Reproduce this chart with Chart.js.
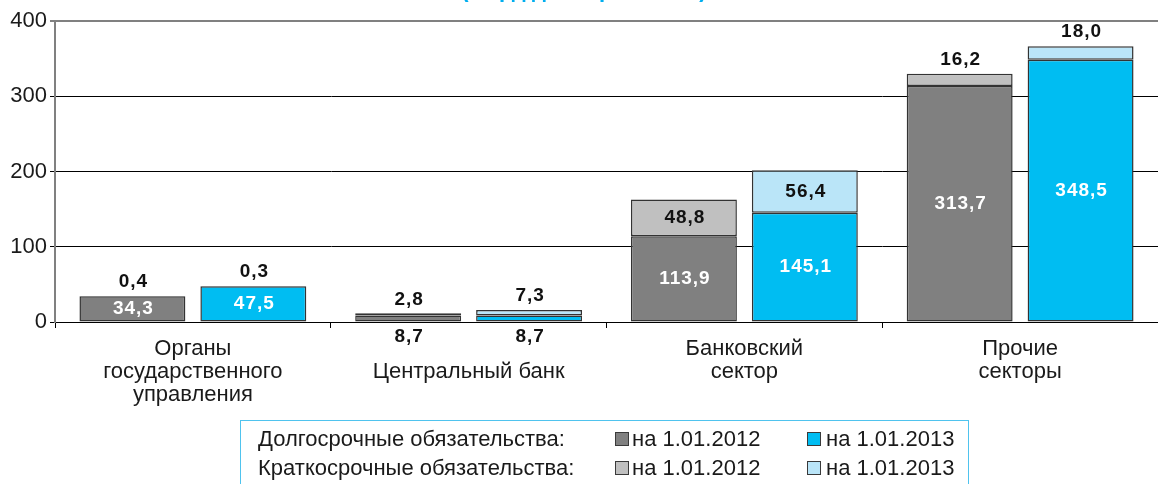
<!DOCTYPE html>
<html lang="ru">
<head>
<meta charset="utf-8">
<script src="https://cdn.jsdelivr.net/npm/chart.js@4/dist/chart.umd.min.js"></script>
<style>
  html, body { margin: 0; padding: 0; background: #fff; }
  #wrap { position: relative; width: 1158px; height: 484px; overflow: hidden; }
  #debt-chart { position: absolute; left: 0; top: 0; }
  .legend {
    position: absolute; left: 240px; top: 420px; width: 729px; height: 90px;
    border: 1px solid #4fc3ee; box-sizing: border-box;
    font-family: "Liberation Sans", Arial, sans-serif; font-size: 22px; color: #1a1a1a;
  }
  .legend span { position: absolute; white-space: nowrap; line-height: 22px; }
  .legend i { position: absolute; width: 12px; height: 12px; border: 1px solid #3a3a3a; }
</style>
</head>
<body>
<div id="wrap">
  <canvas id="debt-chart" width="1158" height="484"></canvas>
  <div class="legend" id="legend"></div>
</div>
<script>
const CATEGORIES = [
  ['Органы', 'государственного', 'управления'],
  ['', 'Центральный банк'],
  ['Банковский', 'сектор'],
  ['Прочие', 'секторы'],
];
const LONG_2012  = [34.3, 8.7, 113.9, 313.7];
const SHORT_2012 = [0.4, 2.8, 48.8, 16.2];
const LONG_2013  = [47.5, 8.7, 145.1, 348.5];
const SHORT_2013 = [0.3, 7.3, 56.4, 18.0];
const Y_TICKS    = [0, 100, 200, 300, 400];
const TITLE      = '(млрд долларов США)';
const LEGEND_ROWS = ['Долгосрочные обязательства:', 'Краткосрочные обязательства:'];
const LEGEND_DATES = ['на 1.01.2012', 'на 1.01.2013'];

const FONT = '"Liberation Sans", Arial, sans-serif';
const COLORS = {
  long12:  '#808080',
  long13:  '#00bdf2',
  short12: '#c0c0c0',
  short13: '#bae5f8',
  edge:    '#333',
  title:   '#00aeef',
};

const fmt = v => v.toFixed(1).replace('.', ',');

// value labels: inside the segment if it is tall enough, otherwise above / below
const valueLabels = {
  id: 'valueLabels',
  afterDatasetsDraw(chart) {
    const ctx = chart.ctx;
    ctx.save();
    ctx.font = 'bold 19px ' + FONT;
    ctx.letterSpacing = '1px';
    ctx.textAlign = 'center';
    ctx.textBaseline = 'middle';
    chart.data.datasets.forEach((ds, i) => {
      const meta = chart.getDatasetMeta(i);
      meta.data.forEach((bar, j) => {
        const v = ds.data[j];
        const h = Math.abs(bar.base - bar.y);
        const x = bar.x + 1;
        let y, color;
        if (ds.kind === 'long') {
          if (h > 20) { y = (bar.y + bar.base) / 2; color = '#fff'; }
          else { y = bar.base + 15; color = '#111'; }
        } else {
          if (h > 30) { y = (bar.y + bar.base) / 2; color = '#111'; }
          else { y = bar.y - 14; color = '#111'; }
        }
        ctx.fillStyle = color;
        ctx.fillText(fmt(v), x, y);
      });
    });
    ctx.restore();
  },
};

// title sits mostly above the top edge of the picture
const cutTitle = {
  id: 'cutTitle',
  afterDraw(chart) {
    const ctx = chart.ctx;
    ctx.save();
    ctx.font = 'bold 22px ' + FONT;
    ctx.fillStyle = COLORS.title;
    ctx.textAlign = 'center';
    ctx.textBaseline = 'alphabetic';
    ctx.fillText(TITLE, 584, -3);
    ctx.restore();
  },
};

function buildLegend() {
  const box = document.getElementById('legend');
  const swatches = [[COLORS.long12, COLORS.long13], [COLORS.short12, COLORS.short13]];
  let html = '';
  LEGEND_ROWS.forEach((row, r) => {
    const cy = 18 + r * 29;
    html += `<span style="left:17px;top:${cy - 11}px">${row}</span>`;
    LEGEND_DATES.forEach((d, k) => {
      const sx = k === 0 ? 374 : 566;
      html += `<i style="left:${sx}px;top:${cy - 7}px;background:${swatches[r][k]}"></i>`;
      html += `<span style="left:${sx + (k === 0 ? 17 : 19)}px;top:${cy - 11}px">${d}</span>`;
    });
  });
  box.innerHTML = html;
}

function initChart() {
  const canvas = document.getElementById('debt-chart');
  Chart.defaults.font.family = FONT;
  Chart.defaults.color = '#1a1a1a';

  new Chart(canvas, {
    type: 'bar',
    data: {
      labels: CATEGORIES,
      datasets: [
        { kind: 'long',  data: LONG_2012,  backgroundColor: COLORS.long12,  stack: '2012' },
        { kind: 'short', data: SHORT_2012, backgroundColor: COLORS.short12, stack: '2012' },
        { kind: 'long',  data: LONG_2013,  backgroundColor: COLORS.long13,  stack: '2013' },
        { kind: 'short', data: SHORT_2013, backgroundColor: COLORS.short13, stack: '2013' },
      ].map(d => ({
        ...d,
        borderColor: COLORS.edge,
        borderWidth: 1.5,
        borderSkipped: false,
        categoryPercentage: 0.877,
        barPercentage: 0.876,
      })),
    },
    options: {
      responsive: false,
      animation: false,
      events: [],
      layout: { padding: { top: 21, left: 0, right: 0, bottom: 0 } },
      plugins: { legend: { display: false }, tooltip: { enabled: false } },
      scales: {
        x: {
          stacked: true,
          afterFit: s => { s.height = 162; },
          border: { display: true, color: '#000', width: 1 },
          grid: { display: true, drawOnChartArea: false, offset: true, tickLength: 6, color: '#000' },
          ticks: {
            autoSkip: false, maxRotation: 0, padding: 9,
            font: { size: 22, lineHeight: 1.05 }, color: '#1a1a1a',
          },
        },
        y: {
          stacked: true,
          min: 0, max: 400,
          afterFit: s => { s.width = 55; },
          afterBuildTicks: s => { s.ticks = Y_TICKS.map(v => ({ value: v })); },
          border: { display: true, color: '#808080', width: 2 },
          grid: {
            color: c => c.tick && c.tick.value === 400 ? '#808080' : '#000',
            lineWidth: c => c.tick && c.tick.value === 400 ? 2 : 1,
            tickLength: 5,
          },
          ticks: { padding: 3, font: { size: 22 }, color: '#1a1a1a' },
        },
      },
    },
    plugins: [valueLabels, cutTitle],
  });
}

buildLegend();
initChart();
</script>
</body>
</html>
